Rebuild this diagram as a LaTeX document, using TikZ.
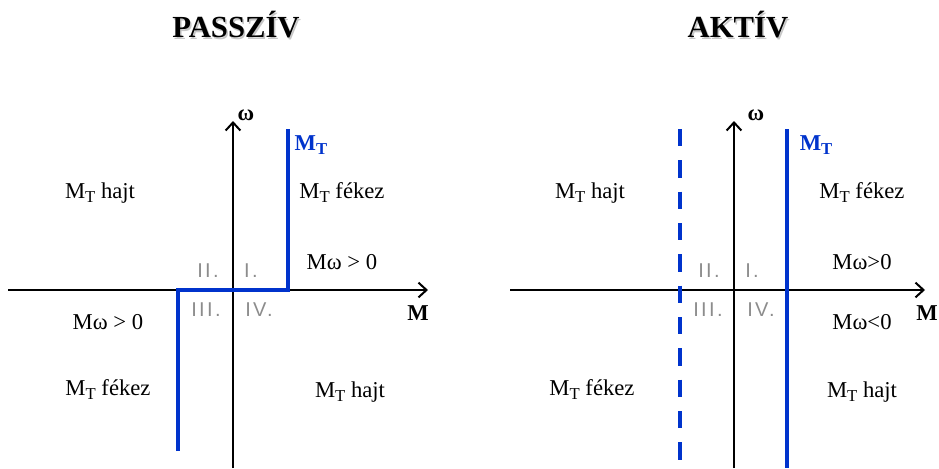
\documentclass[tikz,border=0pt]{standalone}
\usepackage{fontspec}
\usetikzlibrary{arrows.meta}
\setmainfont{Liberation Serif}
\newfontfamily\numfont[LetterSpace=12]{Liberation Sans}
\definecolor{mtblue}{RGB}{0,51,204}
\definecolor{numgray}{RGB}{140,140,140}
\newcommand{\MTsub}{M\raisebox{-3pt}{\fontsize{12.5}{12.5}\selectfont T}}
\tikzset{
    axis/.style={line width=1.5pt,-{Straight Barb[length=6pt,width=11pt]}},
    mtline/.style={mtblue,line width=3pt},
    quad/.style={font=\numfont\fontsize{15}{17}\selectfont,text=numgray},
    lbl/.style={font=\fontsize{17}{20}\selectfont},
    axlbl/.style={font=\bfseries\fontsize{17}{20}\selectfont},
    mtlbl/.style={font=\bfseries\fontsize{17}{20}\selectfont,text=mtblue},
    title/.style={font=\bfseries\fontsize{23}{27}\selectfont},
}
\begin{document}
\begin{tikzpicture}[x=0.75pt,y=-0.75pt]
    \useasboundingbox (0,0) rectangle (939,468);

    % Titles
    \node[title,text=black!22] (passzivs) at (237.5,26.5) {PASSZÍV};
    \node[title] (passziv) at (236,25) {PASSZÍV};
    \node[title,text=black!22] (aktivs) at (739.5,26.5) {AKTÍV};
    \node[title] (aktiv) at (738,25) {AKTÍV};

    %%% Passive load
    % Axes
    \coordinate (pxl) at (8,290);   \coordinate (pxr) at (428,290);
    \coordinate (pyb) at (233,468); \coordinate (pyt) at (233,121);
    \draw[axis] (pxl) -- (pxr);
    \draw[axis] (pyb) -- (pyt);
    \node[axlbl] (pw) at (246,115) {ω};
    \node[axlbl] (pm) at (418,313) {M};

    % Load characteristic
    \coordinate (pa) at (178,451); \coordinate (pb) at (178,290);
    \coordinate (pc) at (288,290); \coordinate (pd) at (288,129);
    \draw[mtline,line join=miter] (pa) -- (pb) -- (pc) -- (pd);
    \node[mtlbl] (pmt) at (311,145) {\MTsub};

    % Quadrants
    \node[quad] (p2) at (208,271) {II.};
    \node[quad] (p1) at (251,271) {I.};
    \node[quad] (p3) at (206,310) {III.};
    \node[quad] (p4) at (259,310) {IV.};

    % Regions
    \node[lbl] (ph1) at (100,193) {\MTsub{} hajt};
    \node[lbl] (pf1) at (342,193) {\MTsub{} fékez};
    \node[lbl] (pp1) at (342,262) {Mω > 0};
    \node[lbl] (pp3) at (108,322) {Mω > 0};
    \node[lbl] (pf3) at (108,390) {\MTsub{} fékez};
    \node[lbl] (ph4) at (350,392) {\MTsub{} hajt};

    %%% Active load
    % Axes
    \coordinate (axl) at (510,290); \coordinate (axr) at (925,290);
    \coordinate (ayb) at (734,468); \coordinate (ayt) at (734,121);
    \draw[axis] (axl) -- (axr);
    \draw[axis] (ayb) -- (ayt);
    \node[axlbl] (aw) at (756,115) {ω};
    \node[axlbl] (am) at (927,313) {M};

    % Load characteristics
    \coordinate (ada) at (680,129); \coordinate (adb) at (680,468);
    \coordinate (asa) at (787,129); \coordinate (asb) at (787,468);
    \draw[mtline,dash pattern=on 13pt off 10.5pt] (ada) -- (adb);
    \draw[mtline] (asa) -- (asb);
    \node[mtlbl] (amt) at (816,145) {\MTsub};

    % Quadrants
    \node[quad] (a2) at (709,271) {II.};
    \node[quad] (a1) at (752,271) {I.};
    \node[quad] (a3) at (708,310) {III.};
    \node[quad] (a4) at (761,310) {IV.};

    % Regions
    \node[lbl] (ah1) at (590,193) {\MTsub{} hajt};
    \node[lbl] (af1) at (862,193) {\MTsub{} fékez};
    \node[lbl] (ap1) at (862,262) {Mω>0};
    \node[lbl] (an4) at (862,322) {Mω<0};
    \node[lbl] (af3) at (592,390) {\MTsub{} fékez};
    \node[lbl] (ah4) at (862,392) {\MTsub{} hajt};
\end{tikzpicture}
\end{document}
